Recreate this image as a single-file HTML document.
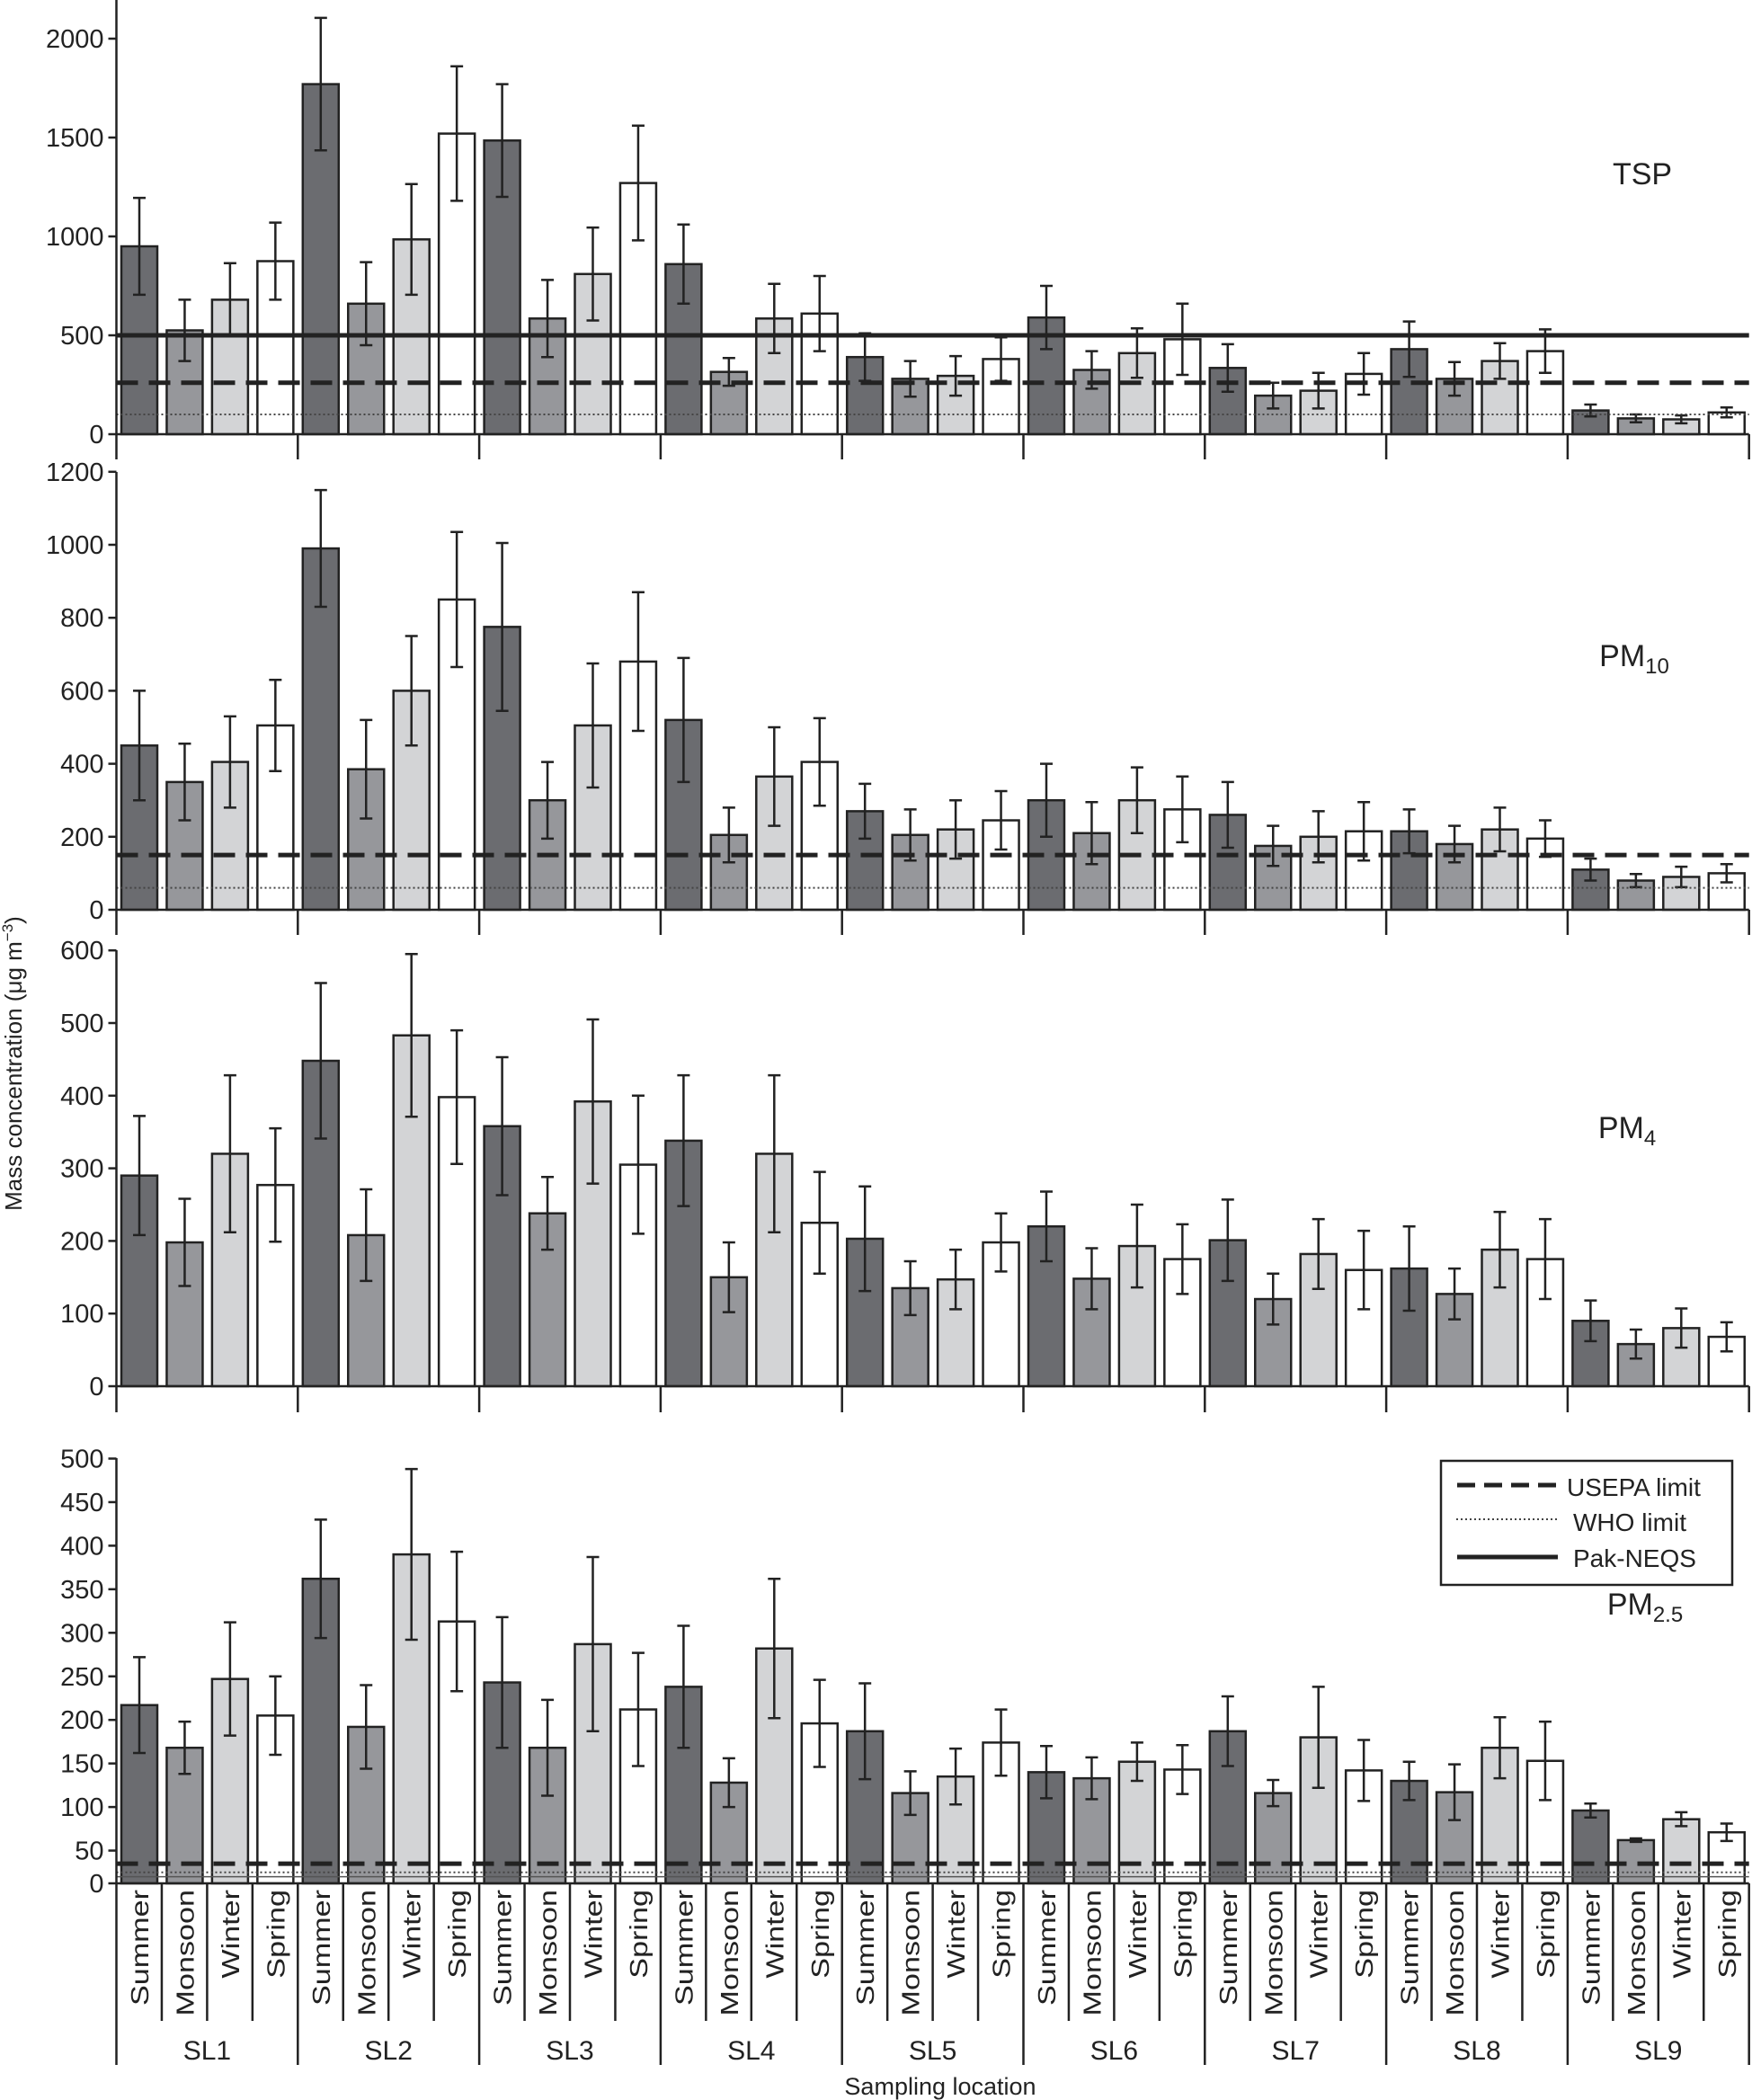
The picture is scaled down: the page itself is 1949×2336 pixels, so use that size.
<!DOCTYPE html>
<html><head><meta charset="utf-8">
<style>
html,body{margin:0;padding:0;background:#fff;}
svg{display:block;font-family:"Liberation Sans",Arial,sans-serif;}
</style></head>
<body>
<svg id="chart" width="1949" height="2336" viewBox="0 0 1949 2336" xmlns="http://www.w3.org/2000/svg"></svg>
<script>
const sites = ["SL1","SL2","SL3","SL4","SL5","SL6","SL7","SL8","SL9"];
const seasons = ["Summer","Monsoon","Winter","Spring"];
const seasonFill = ["#6b6c70","#96979b","#d3d4d6","#ffffff"];

const tspMean = [950,525,680,875, 1770,660,985,1520, 1485,585,810,1270, 860,315,585,610, 390,280,295,380, 590,325,410,480, 335,195,220,305, 430,280,370,420, 120,80,75,110];
const tspErr  = [245,155,185,195, 335,210,280,340, 285,195,235,290, 200,70,175,190, 120,90,100,110, 160,95,125,180, 120,65,90,105, 140,85,90,110, 30,20,20,25];
const pm10Mean = [450,350,405,505, 990,385,600,850, 775,300,505,680, 520,205,365,405, 270,205,220,245, 300,210,300,275, 260,175,200,215, 215,180,220,195, 110,80,90,100];
const pm10Err  = [150,105,125,125, 160,135,150,185, 230,105,170,190, 170,75,135,120, 75,70,80,80, 100,85,90,90, 90,55,70,80, 60,50,60,50, 30,18,28,25];
const pm4Mean = [290,198,320,277, 448,208,483,398, 358,238,392,305, 338,150,320,225, 203,135,147,198, 220,148,193,175, 201,120,182,160, 162,127,188,175, 90,58,80,68];
const pm4Err  = [82,60,108,78, 107,63,112,92, 95,50,113,95, 90,48,108,70, 72,37,41,40, 48,42,57,48, 56,35,48,54, 58,35,52,55, 28,20,27,20];
const pm25Mean = [217,168,247,205, 362,192,390,313, 243,168,287,212, 238,128,282,196, 187,116,135,174, 140,133,152,143, 187,116,180,142, 130,117,168,153, 96,62,86,71];
const pm25Err  = [55,30,65,45, 68,48,98,80, 75,55,100,65, 70,28,80,50, 55,25,32,38, 30,24,22,28, 40,15,58,35, 22,32,35,45, 8,2,8,10];

const tspTicks = [0,500,1000,1500,2000];
const pm10Ticks = [0,200,400,600,800,1000,1200];
const pm4Ticks = [0,100,200,300,400,500,600];
const pm25Ticks = [0,50,100,150,200,250,300,350,400,450,500];

const tspLimits = [500,260,100];   // Pak-NEQS, USEPA, WHO
const pm10Limits = [150,60];       // USEPA, WHO
const pm25Limits = [35,25];        // USEPA, WHO

const NS="http://www.w3.org/2000/svg";
const svg=document.getElementById('chart');
function el(tag,attrs,parent){const e=document.createElementNS(NS,tag);for(const k in attrs)e.setAttribute(k,attrs[k]);(parent||svg).appendChild(e);return e;}

const X0=129.5, GW=201.8, SLOT=GW/4, BW=40;
function xBar(i){const g=Math.floor(i/4),s=i%4;return X0+g*GW+s*SLOT+5.5;}
const XEND=X0+9*GW;

function panel(name,mean,err,ticks,y0,ppu,base,top,tickBot,title,titleX,titleY,limits){
  const g=el('g',{});
  
  
  const y=v=>y0-v*ppu;
  for(let i=0;i<mean.length;i++){
    const x=xBar(i), yt=y(mean[i]);
    const r=el('rect',{x:x,y:yt,width:BW,height:base-yt,fill:seasonFill[i%4],stroke:'#222','stroke-width':2.5},g);
    
    
    const cx=x+BW/2, yh=y(mean[i]+err[i]), yl=y(mean[i]-err[i]);
    const eb=el('path',{d:`M${cx},${yh}V${yl}M${cx-7},${yh}H${cx+7}M${cx-7},${yl}H${cx+7}`,stroke:'#222','stroke-width':2.5,fill:'none'},g);
    
    
  }
  if(limits){
    limits.forEach(l=>{
      let st;
      if(l.type==='solid') st={stroke:'#222','stroke-width':5};
      else if(l.type==='dash') st={stroke:'#222','stroke-width':5,'stroke-dasharray':'24 12'};
      else if(l.type==='thin') st={stroke:'#555','stroke-width':1.5};
      else st={stroke:'#444','stroke-width':2,'stroke-dasharray':'2 3'};
      const ln=el('line',Object.assign({x1:X0,x2:XEND,y1:y(l.v),y2:y(l.v)},st),g);
      
      
    });
  }
  const ya=el('line',{x1:X0,x2:X0,y1:top,y2:tickBot,stroke:'#222','stroke-width':2.5},g);
  
  
  const xa=el('line',{x1:X0,x2:XEND,y1:base,y2:base,stroke:'#222','stroke-width':2.5},g);
  
  
  for(let k=1;k<=9;k++){
    const t=el('line',{x1:X0+k*GW,x2:X0+k*GW,y1:base,y2:tickBot,stroke:'#222','stroke-width':2.5},g);
    
    
  }
  ticks.forEach(v=>{
    const ty = v===0 ? base : y(v);
    el('line',{x1:X0-9,x2:X0,y1:ty,y2:ty,stroke:'#222','stroke-width':2.5},g);
    const t=el('text',{x:X0-14,y:ty+10,'text-anchor':'end','font-size':29,fill:'#222'},g);
    t.textContent=v;
    
    
  });
  const tt=el('text',{x:titleX,y:titleY,'font-size':34,fill:'#222','text-anchor':'middle'},g);
  tt.innerHTML=title;
  
  
}

panel('tsp',tspMean,tspErr,tspTicks,483,0.22,483,0,511,'TSP',1827,205,
  [{v:tspLimits[0],type:'solid',n:'pak-neqs'},{v:tspLimits[1],type:'dash',n:'usepa'},{v:tspLimits[2],type:'dot',n:'who'}]);
panel('pm10',pm10Mean,pm10Err,pm10Ticks,1012,0.406,1012,525,1040,'PM<tspan font-size="24" dy="8">10</tspan>',1818,741,
  [{v:pm10Limits[0],type:'dash',n:'usepa'},{v:pm10Limits[1],type:'dot',n:'who'}]);
panel('pm4',pm4Mean,pm4Err,pm4Ticks,1542,0.808,1542,1057,1571,'PM<tspan font-size="24" dy="8">4</tspan>',1810,1266,null);
panel('pm25',pm25Mean,pm25Err,pm25Ticks,2107,0.969,2095,1622,2297,'PM<tspan font-size="24" dy="8">2.5</tspan>',1830,1796,
  [{v:pm25Limits[0],type:'dash',n:'usepa'},{v:20,type:'thin',n:'baseline'},{v:pm25Limits[1],type:'dot',n:'who'}]);

for(let i=0;i<36;i++){
  const cx=xBar(i)+BW/2;
  const t=el('text',{x:0,y:0,'font-size':28,fill:'#222','text-anchor':'end',transform:`translate(${cx+10},2102) rotate(-90) scale(1.22,1)`});
  t.textContent=seasons[i%4];
  
  
  if(i%4!==0){
    const s=el('line',{x1:X0+Math.floor(i/4)*GW+(i%4)*SLOT,x2:X0+Math.floor(i/4)*GW+(i%4)*SLOT,y1:2095,y2:2248,stroke:'#222','stroke-width':2.5});
    
    
  }
}
sites.forEach((s,k)=>{
  const t=el('text',{x:X0+k*GW+GW/2,y:2291,'text-anchor':'middle','font-size':30,fill:'#222'});
  t.textContent=s;
  
  
});
const xt=el('text',{x:1046,y:2330,'text-anchor':'middle','font-size':27,fill:'#222'});
xt.textContent='Sampling location';


const yt=el('text',{x:0,y:0,'text-anchor':'middle','font-size':26,fill:'#222',transform:'translate(24,1183) rotate(-90)'});
yt.innerHTML='Mass concentration (μg m<tspan font-size="17" dy="-10">−3</tspan><tspan dy="10">)</tspan>';



const lg=el('g',{});


el('rect',{x:1603,y:1625,width:324,height:138,fill:'#fff',stroke:'#222','stroke-width':2.5},lg);
el('line',{x1:1621,x2:1731,y1:1652,y2:1652,stroke:'#222','stroke-width':5,'stroke-dasharray':'20 10'},lg);
el('line',{x1:1620,x2:1733,y1:1690,y2:1690,stroke:'#444','stroke-width':2,'stroke-dasharray':'2 3'},lg);
el('line',{x1:1621,x2:1733,y1:1732,y2:1732,stroke:'#222','stroke-width':5},lg);
[['USEPA limit',1743,1664,'legend-entry-usepa'],['WHO limit',1750,1703,'legend-entry-who'],['Pak-NEQS',1750,1743,'legend-entry-pak-neqs']].forEach(a=>{
  const t=el('text',{x:a[1],y:a[2],'font-size':28,fill:'#222'},lg);
  t.textContent=a[0];
  
  
});
</script>
</body></html>
